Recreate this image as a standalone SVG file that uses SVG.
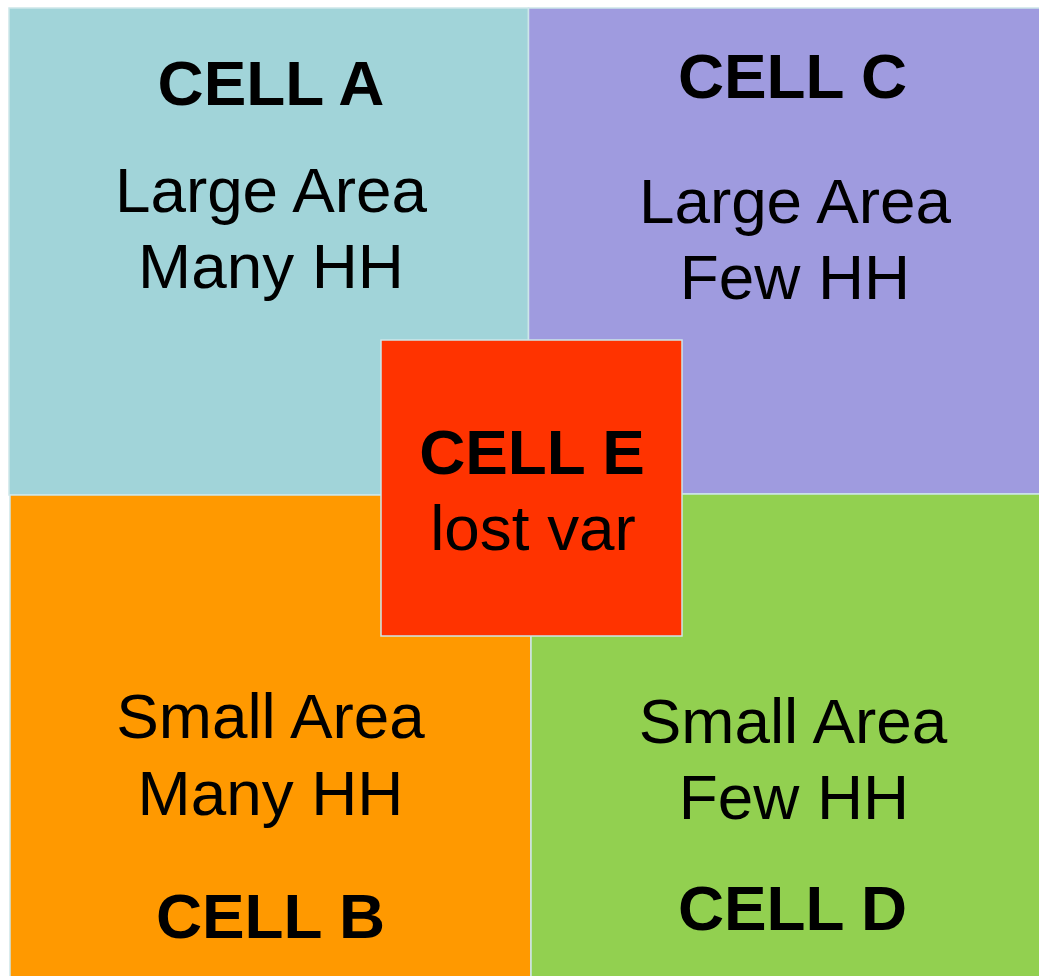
<svg xmlns="http://www.w3.org/2000/svg" width="1039" height="976" viewBox="0 0 1039 976">
<style>
.cell{stroke:#CDE6E9;stroke-width:1.5}
.b{font-family:"Liberation Sans",Arial,sans-serif;font-weight:bold;font-size:63.8px;fill:#000;text-anchor:middle}
.r{font-family:"Liberation Sans",Arial,sans-serif;font-size:63.8px;fill:#000;text-anchor:middle}
</style>
<rect width="1039" height="976" fill="#fff"/>
<g id="cellA">
<rect class="cell" x="9" y="8" width="519.5" height="487" fill="#A1D4D9"/>
<text class="b" x="271" y="105">CELL A</text>
<text class="r" x="271" y="212">Large Area</text>
<text class="r" x="271" y="288">Many HH</text>
</g>
<g id="cellC">
<rect class="cell" x="528.5" y="8" width="515" height="486" fill="#9F9BDF"/>
<text class="b" x="792.5" y="98">CELL C</text>
<text class="r" x="795" y="223">Large Area</text>
<text class="r" x="795" y="299">Few HH</text>
</g>
<g id="cellB">
<rect class="cell" x="10" y="495" width="521" height="490" fill="#FF9900"/>
<text class="r" x="270.5" y="738">Small Area</text>
<text class="r" x="270.5" y="815">Many HH</text>
<text class="b" x="270.5" y="938">CELL B</text>
</g>
<g id="cellD">
<rect class="cell" x="531" y="494" width="515" height="490" fill="#92D050"/>
<text class="r" x="793" y="743">Small Area</text>
<text class="r" x="794" y="819">Few HH</text>
<text class="b" x="792.5" y="930">CELL D</text>
</g>
<g id="cellE">
<rect class="cell" x="381" y="340" width="301" height="296" fill="#FF3300"/>
<text class="b" x="532" y="474">CELL E</text>
<text class="r" x="533" y="550">lost var</text>
</g>
<g id="connectors"/>
</svg>
